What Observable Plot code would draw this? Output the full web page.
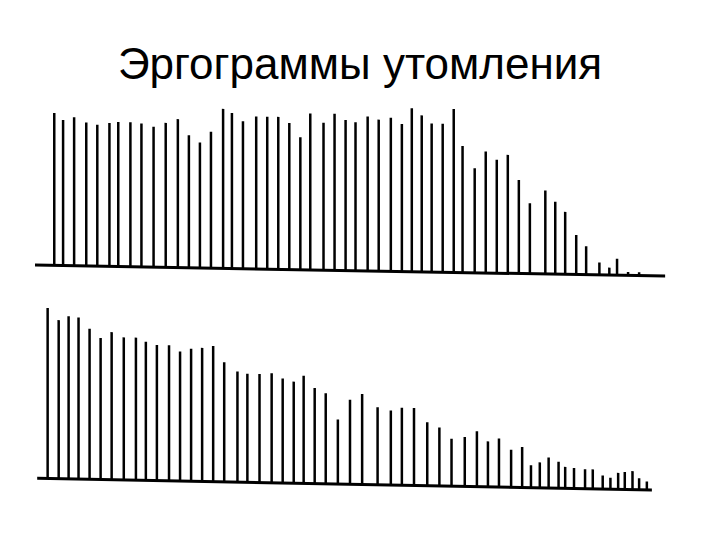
<!DOCTYPE html>
<html>
<head>
<meta charset="utf-8">
<script src="https://cdn.jsdelivr.net/npm/d3@7"></script>
<script src="https://cdn.jsdelivr.net/npm/@observablehq/plot@0.6"></script>
<style>
  html, body { margin: 0; padding: 0; background: #fff; }
  body { width: 720px; height: 540px; position: relative; overflow: hidden; }
  #title { position: absolute; left: 0; top: 42px; width: 720px; text-align: center;
           font-family: "Liberation Sans", Arial, sans-serif; font-size: 44px; line-height: 1; color: #000; }
  #top, #bottom { position: absolute; left: 0; }
  #top { top: 94px; }
  #bottom { top: 297px; }
  #top svg { transform-origin: 0 0; transform: skewY(1deg); }
  #bottom svg { transform-origin: 0 0; transform: skewY(1.1deg); }
</style>
</head>
<body>
<div id="title">Эргограммы утомления</div>
<div id="top"></div>
<div id="bottom"></div>
<script>
// Ergogram 1 (upper): stroke times (s) and lift heights (arbitrary units)
const topTimes = [1.7, 2.5, 3.5, 4.6, 5.6, 6.7, 7.5, 8.6, 9.6, 10.7, 11.8, 12.9, 13.9, 14.9, 15.9, 17.0, 17.8, 18.8, 20.0, 21.0,
  22.0, 23.0, 24.0, 24.9, 26.1, 27.1, 28.1, 29.0, 30.1, 31.1, 32.2, 33.2, 34.1, 35.0, 35.9, 36.9, 37.9, 38.7, 39.8, 40.8,
  41.8, 42.8, 43.8, 44.8, 46.2, 47.1, 48.0, 49.0, 49.9, 51.1, 52.0, 52.7, 53.7, 54.7];
const topHeights = [152, 145, 148, 143, 141, 143, 144, 144, 143, 140, 144, 148, 132, 125, 136, 159, 155, 147, 152, 152,
  152, 146, 132, 156, 147, 156, 150, 148, 154, 151, 153, 147, 163, 156, 148, 148, 163, 126, 104, 121,
  113, 118, 93, 70, 83, 72, 62, 39, 28, 12, 7, 16, 3, 3];
const topBaseline = [0, 57.1];

// Ergogram 2 (lower)
const bottomTimes = [1.1, 2.1, 3.0, 3.9, 4.9, 5.9, 6.9, 8.0, 9.1, 10.0, 11.0, 12.1, 13.1, 14.1, 15.1, 16.1, 17.1, 18.3, 19.2, 20.3,
  21.4, 22.4, 23.4, 24.3, 25.3, 26.3, 27.4, 28.5, 29.6, 31.0, 32.2, 33.2, 34.3, 35.5, 36.6, 37.7, 38.9, 40.0, 41.0, 42.0,
  43.1, 44.1, 44.9, 45.7, 46.5, 47.4, 48.0, 48.8, 49.8, 50.5, 51.4, 52.1, 52.8, 53.4, 54.1, 54.7, 55.4];
const bottomHeights = [170, 158, 162, 161, 150, 141, 147, 142, 142, 138, 135, 135, 129, 132, 133, 135, 119, 110, 108, 108,
  109, 104, 101, 107, 95, 90, 64, 84, 90, 77, 74, 77, 77, 63, 58, 47, 49, 55, 45, 48,
  37, 40, 22, 25, 30, 26, 21, 20, 19, 19, 13, 11, 16, 17, 18, 11, 8];
const bottomBaseline = [0.2, 55.9];

function ergogram(times, heights, baseline, opts) {
  const strokes = times.map((t, i) => ({t, h: heights[i]}));
  const base = [{x1: baseline[0], x2: baseline[1], y: 0}];
  return Plot.plot({
    width: 720,
    height: opts.height,
    marginLeft: 35,
    marginRight: 56,
    marginTop: opts.marginTop,
    marginBottom: opts.marginBottom,
    x: {domain: [0, 57], axis: null},
    y: {domain: [0, 170], axis: null},
    style: {background: "transparent", overflow: "visible"},
    marks: [
      Plot.ruleX(strokes, {x: "t", y1: 0, y2: "h", stroke: "#000", strokeWidth: 2.5}),
      Plot.ruleY(base, {x1: "x1", x2: "x2", y: "y", stroke: "#000", strokeWidth: 3})
    ]
  });
}

document.getElementById("top").append(
  ergogram(topTimes, topHeights, topBaseline, {height: 200, marginTop: 0, marginBottom: 30}));
document.getElementById("bottom").append(
  ergogram(bottomTimes, bottomHeights, bottomBaseline, {height: 200, marginTop: 10, marginBottom: 20}));
</script>
</body>
</html>
